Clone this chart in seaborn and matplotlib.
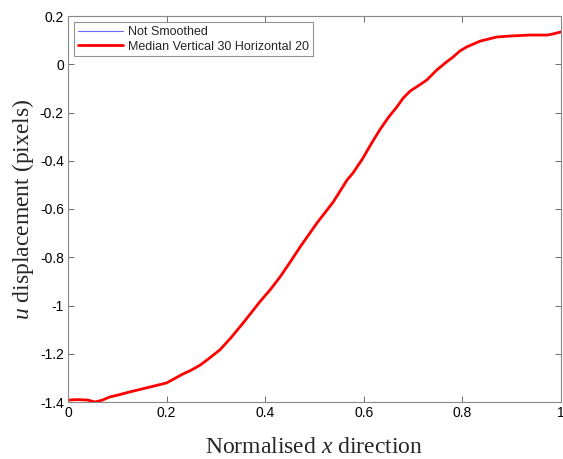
import numpy as np
import pandas as pd
import seaborn as sns
import matplotlib
matplotlib.use("Agg")
import matplotlib.pyplot as plt

x_pos = [0.0, 0.02, 0.04, 0.055, 0.07, 0.085, 0.10, 0.126, 0.166, 0.20, 0.233, 0.250,
         0.268, 0.282, 0.308, 0.330, 0.355, 0.389, 0.410, 0.430, 0.450, 0.471, 0.505,
         0.538, 0.566, 0.578, 0.598, 0.615, 0.633, 0.650, 0.667, 0.680, 0.694, 0.710,
         0.728, 0.748, 0.765, 0.781, 0.795, 0.809, 0.836, 0.870, 0.897, 0.937, 0.972,
         0.985, 1.0]
smoothed = [-1.392, -1.390, -1.392, -1.400, -1.392, -1.379, -1.372, -1.358, -1.338, -1.321,
            -1.284, -1.268, -1.247, -1.226, -1.184, -1.135, -1.073, -0.985, -0.935, -0.882,
            -0.822, -0.757, -0.658, -0.571, -0.480, -0.451, -0.390, -0.330, -0.270, -0.220,
            -0.177, -0.140, -0.111, -0.090, -0.065, -0.024, 0.005, 0.030, 0.055, 0.072,
            0.096, 0.113, 0.117, 0.121, 0.121, 0.126, 0.134]
not_smoothed = [-1.390, -1.392, -1.389, -1.401, -1.390, -1.381, -1.370, -1.356, -1.340, -1.319,
                -1.286, -1.266, -1.249, -1.224, -1.186, -1.133, -1.075, -0.983, -0.937, -0.880,
                -0.824, -0.755, -0.660, -0.569, -0.482, -0.449, -0.392, -0.328, -0.272, -0.218,
                -0.179, -0.138, -0.113, -0.088, -0.067, -0.022, 0.003, 0.032, 0.053, 0.074,
                0.094, 0.115, 0.115, 0.123, 0.119, 0.128, 0.136]
x_ticks = [0, 0.2, 0.4, 0.6, 0.8, 1]
x_tick_labels = ["0", "0.2", "0.4", "0.6", "0.8", "1"]
y_ticks = [-1.4, -1.2, -1.0, -0.8, -0.6, -0.4, -0.2, 0, 0.2]
y_tick_labels = ["-1.4", "-1.2", "-1", "-0.8", "-0.6", "-0.4", "-0.2", "0", "0.2"]

sns.set_theme(style="white")
plt.rcParams['font.family'] = ['Liberation Sans', 'DejaVu Sans']
plt.rcParams['mathtext.fontset'] = 'custom'
plt.rcParams['mathtext.it'] = 'Liberation Serif:italic'
plt.rcParams['mathtext.rm'] = 'Liberation Serif'

df = pd.DataFrame({"x": x_pos, "Not Smoothed": not_smoothed,
                   "Median Vertical 30 Horizontal 20": smoothed})

fig = plt.figure(figsize=(5.63, 4.59), dpi=100)
ax = fig.add_axes([68/563, 1 - 402/459, (561-68)/563, (402-16)/459])

sns.lineplot(data=df, x="x", y="Not Smoothed", ax=ax, color="#6a6aff", linewidth=0.8,
             label="Not Smoothed")
sns.lineplot(data=df, x="x", y="Median Vertical 30 Horizontal 20", ax=ax, color="#ff0000",
             linewidth=2.0, label="Median Vertical 30 Horizontal 20")

ax.set_xlim(0, 1)
ax.set_ylim(-1.4, 0.2)
ax.set_xticks(x_ticks)
ax.set_xticklabels(x_tick_labels)
ax.set_yticks(y_ticks)
ax.set_yticklabels(y_tick_labels)
ax.tick_params(direction="in", length=4, width=0.6, colors="#555555", labelcolor="black",
               labelsize=10, top=True, right=True, bottom=True, left=True, pad=3)
for s in ax.spines.values():
    s.set_color("#888888")
    s.set_linewidth(0.8)

ax.set_xlabel("Normalised $x$ direction", fontfamily="Liberation Serif", fontsize=17, labelpad=12)
ax.set_ylabel("$u$ displacement (pixels)", fontfamily="Liberation Serif", fontsize=17, labelpad=3)

leg = ax.legend(loc="upper left", fontsize=9, frameon=True, fancybox=False,
                handlelength=3.6, borderaxespad=0.5, borderpad=0.3, labelspacing=0.2,
                handletextpad=0.4)
leg.get_frame().set_edgecolor("#777777")
leg.get_frame().set_linewidth(0.8)

fig.savefig("out.png", dpi=100)
